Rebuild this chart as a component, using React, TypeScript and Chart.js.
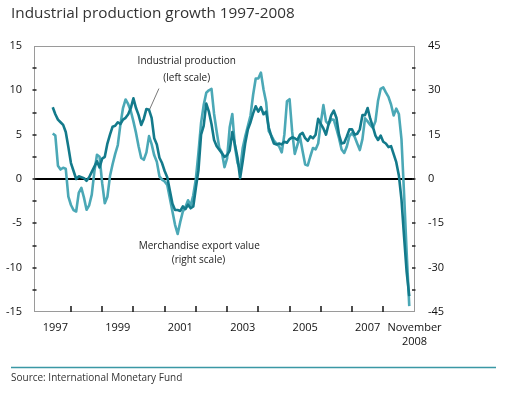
import React, { useEffect, useRef } from "react";
import { Chart, registerables } from "chart.js";

Chart.register(...registerables);

// Months are counted from January 1997 (= 0). Series start in June 1997.
const startMonth = 5;

// Industrial production growth, % (left scale), Jun 1997 - Nov 2008
const industrialProduction = [
  // 1997 (Jun-Dec)
  8.1, 7.3, 6.7, 6.4, 6.1, 5.3, 3.6,
  // 1998
  1.8, 0.9, 0.0, 0.3, 0.2, 0.1, -0.2, 0.2, 0.8, 1.4, 2.0, 1.3,
  // 1999
  2.3, 2.5, 4.0, 5.0, 5.9, 6.0, 6.4, 6.2, 6.7, 6.9, 7.3, 8.0,
  // 2000
  9.1, 8.0, 7.2, 6.1, 6.8, 7.9, 7.8, 6.9, 4.6, 3.9, 2.4, 1.8,
  // 2001
  0.9, 0.2, -1.3, -2.8, -3.5, -3.5, -3.6, -3.1, -3.4, -2.9, -3.3, -3.1,
  // 2002
  -1.0, 1.0, 5.0, 6.0, 8.5, 7.6, 6.2, 4.4, 3.7, 3.3, 2.9, 2.5,
  // 2003
  2.7, 3.2, 5.3, 3.9, 2.4, 0.1, 2.0, 4.1, 5.6, 6.4, 7.4, 8.2,
  // 2004
  7.6, 8.1, 7.3, 7.6, 5.8, 4.8, 4.0, 3.9, 4.0, 3.9, 4.2, 4.1,
  // 2005
  4.5, 4.7, 4.6, 4.4, 5.0, 5.2, 4.6, 4.3, 4.8, 4.6, 5.0, 6.8,
  // 2006
  6.2, 5.7, 5.0, 6.2, 7.2, 7.7, 6.9, 5.0, 4.0, 4.1, 4.8, 5.6,
  // 2007
  5.6, 5.0, 5.1, 5.6, 7.2, 7.2, 8.0, 6.8, 5.9, 4.9, 4.4, 4.9,
  // 2008 (Jan-Nov)
  4.2, 4.0, 3.6, 3.7, 2.8, 1.9, 0.4, -2.3, -6.5, -10.5, -13.2,
];

// Merchandise export value growth, % (right scale), Jun 1997 - Nov 2008
const merchandiseExports = [
  // 1997 (Jun-Dec)
  15.4, 14.7, 4.5, 3.2, 3.8, 3.5, -6.0,
  // 1998
  -8.8, -10.5, -11.0, -4.7, -3.0, -6.3, -10.4, -8.9, -5.3, 2.5, 8.2, 7.5,
  // 1999
  -1.4, -8.2, -6.0, 1.0, 5.0, 8.5, 11.5, 18.4, 24.0, 26.9, 25.3, 23.0,
  // 2000
  19.5, 15.6, 11.0, 7.1, 6.5, 9.0, 14.5, 11.8, 8.0, 5.8, 0.9, -0.2,
  // 2001
  -0.8, -2.0, -6.5, -11.0, -15.5, -18.6, -14.5, -11.0, -9.5, -7.2, -9.0, -5.5,
  // 2002
  0.0, 9.0, 19.0, 25.0, 29.2, 30.0, 30.5, 22.0, 16.0, 10.5, 9.0, 4.0,
  // 2003
  7.0, 17.5, 22.0, 11.0, 5.5, 3.2, 10.5, 14.5, 18.0, 21.5, 28.5, 34.0,
  // 2004
  34.0, 36.0, 30.3, 26.0, 16.2, 14.7, 13.0, 12.0, 11.0, 9.0, 15.0, 26.3,
  // 2005
  27.0, 16.0, 8.5, 11.5, 14.3, 9.5, 4.9, 4.6, 7.7, 10.5, 10.0, 12.0,
  // 2006
  19.0, 25.0, 19.5, 18.5, 20.2, 20.0, 17.0, 13.8, 10.0, 8.8, 11.0, 14.5,
  // 2007
  15.5, 14.3, 12.0, 9.8, 13.5, 20.5, 19.5, 18.3, 17.3, 19.5, 26.5, 30.5,
  // 2008 (Jan-Nov)
  31.0, 29.3, 27.8, 25.2, 21.5, 23.8, 22.0, 13.5, -5.0, -25.0, -43.0,
];

// x-axis labels (placed mid-year) and year-boundary tick marks
const yearLabelMonths = [6, 30, 54, 78, 102, 126, 144];
const yearLabels: (string | string[])[] = ["1997", "1999", "2001", "2003", "2005", "2007", ["November", "2008"]];
const yearBoundaryMonths = [12, 24, 36, 48, 60, 72, 84, 96, 108, 120, 132];

const leftTickMarks = [-12.5, -10, -7.5, -5, -2.5, 0, 2.5, 5, 7.5, 10, 12.5];
const rightTickMarks = [-37.5, -30, -22.5, -15, -7.5, 0, 7.5, 15, 22.5, 30, 37.5];

const titleText = "Industrial production growth 1997-2008";
const sourceText = "Source: International Monetary Fund";

const DARK = "#137a8b";
const LIGHT = "#4ba8b6";
const FONT = "'Open Sans', 'DejaVu Sans', sans-serif";

const overlayPlugin = {
  id: "overlay",
  beforeDraw(chart: any) {
    const ctx = chart.ctx;
    ctx.save();
    ctx.fillStyle = "#ffffff";
    ctx.fillRect(0, 0, chart.width, chart.height);
    ctx.restore();
  },
  afterDraw(chart: any) {
    const ctx = chart.ctx;
    const a = chart.chartArea;
    const xs = chart.scales.x;
    const yl = chart.scales.yLeft;
    const yr = chart.scales.yRight;
    ctx.save();

    // frame
    ctx.strokeStyle = "#9a9a9a";
    ctx.lineWidth = 1;
    ctx.strokeRect(Math.round(a.left) + 0.5, Math.round(a.top) + 0.5, Math.round(a.right - a.left) - 1, Math.round(a.bottom - a.top) - 1);

    // tick marks
    ctx.strokeStyle = "#222";
    ctx.lineWidth = 1.6;
    ctx.beginPath();
    leftTickMarks.forEach((v) => {
      const y = Math.round(yl.getPixelForValue(v));
      ctx.moveTo(a.left - 1.5, y);
      ctx.lineTo(a.left + 2.5, y);
    });
    rightTickMarks.forEach((v) => {
      const y = Math.round(yr.getPixelForValue(v));
      ctx.moveTo(a.right - 3, y);
      ctx.lineTo(a.right + 0.5, y);
    });
    yearBoundaryMonths.forEach((m) => {
      const x = Math.round(xs.getPixelForValue(m));
      ctx.moveTo(x, a.bottom - 6);
      ctx.lineTo(x, a.bottom);
    });
    ctx.stroke();

    // leader line for industrial production
    ctx.strokeStyle = "#555";
    ctx.lineWidth = 0.8;
    ctx.beginPath();
    ctx.moveTo(xs.getPixelForValue(42.3), yl.getPixelForValue(7.9));
    ctx.lineTo(xs.getPixelForValue(45.8), yl.getPixelForValue(10.2));
    ctx.stroke();

    // series annotations
    ctx.fillStyle = "#222";
    ctx.font = `10px ${FONT}`;
    ctx.textAlign = "center";
    ctx.textBaseline = "middle";
    ctx.fillText("Industrial production", xs.getPixelForValue(56.5), yl.getPixelForValue(13.3));
    ctx.fillText("(left scale)", xs.getPixelForValue(56.5), yl.getPixelForValue(11.35));
    ctx.fillText("Merchandise export value", xs.getPixelForValue(61.3), yl.getPixelForValue(-7.6));
    ctx.fillText("(right scale)", xs.getPixelForValue(61.0), yl.getPixelForValue(-9.1));

    // title
    ctx.textAlign = "left";
    ctx.textBaseline = "alphabetic";
    ctx.fillStyle = "#333";
    ctx.font = `15.3px ${FONT}`;
    ctx.fillText(titleText, 11, 18);

    // separator + source
    ctx.strokeStyle = "#3a98a5";
    ctx.lineWidth = 1.3;
    ctx.beginPath();
    ctx.moveTo(11, 367.5);
    ctx.lineTo(496, 367.5);
    ctx.stroke();
    ctx.fillStyle = "#333";
    ctx.font = `10px ${FONT}`;
    ctx.fillText(sourceText, 11, 381);

    ctx.restore();
  },
};

export default function App() {
  const canvasRef = useRef<HTMLCanvasElement | null>(null);

  useEffect(() => {
    if (!canvasRef.current) return;
    const ipPoints = industrialProduction.map((v, i) => ({ x: startMonth + i, y: v }));
    const mxPoints = merchandiseExports.map((v, i) => ({ x: startMonth + i, y: v }));

    const chart = new Chart(canvasRef.current, {
      type: "line",
      data: {
        datasets: [
          {
            label: "Industrial production (left scale)",
            data: ipPoints,
            yAxisID: "yLeft",
            borderColor: DARK,
            borderWidth: 2.6,
            pointRadius: 0,
            tension: 0,
            borderJoinStyle: "round",
            fill: false,
          },
          {
            label: "Merchandise export value (right scale)",
            data: mxPoints,
            yAxisID: "yRight",
            borderColor: LIGHT,
            borderWidth: 2.6,
            pointRadius: 0,
            tension: 0,
            borderJoinStyle: "round",
            fill: false,
          },
        ],
      },
      options: {
        animation: false,
        responsive: false,
        devicePixelRatio: 1,
        layout: { padding: { top: 46, left: 0, right: 0, bottom: 0 } },
        plugins: {
          legend: { display: false },
          title: { display: false },
          tooltip: { enabled: false },
        },
        scales: {
          x: {
            type: "linear",
            min: -2.2,
            max: 144.2,
            grid: { display: false, drawTicks: false },
            border: { display: false },
            afterBuildTicks: (scale: any) => {
              scale.ticks = yearLabelMonths.map((m) => ({ value: m }));
            },
            afterFit: (scale: any) => {
              scale.height = 83;
            },
            ticks: {
              autoSkip: false,
              maxRotation: 0,
              minRotation: 0,
              padding: 8,
              color: "#111",
              font: { family: FONT, size: 11, lineHeight: 1.35 },
              callback: (value: any) => {
                const idx = yearLabelMonths.indexOf(Number(value));
                return idx >= 0 ? yearLabels[idx] : "";
              },
            },
          },
          yLeft: {
            type: "linear",
            position: "left",
            min: -15,
            max: 15,
            afterFit: (scale: any) => {
              scale.width = 34;
            },
            grid: {
              drawTicks: false,
              color: (c: any) => (c.tick && c.tick.value === 0 ? "#000" : "rgba(0,0,0,0)"),
              lineWidth: (c: any) => (c.tick && c.tick.value === 0 ? 2 : 0),
            },
            border: { display: false },
            ticks: {
              stepSize: 5,
              padding: 12,
              color: "#111",
              font: { family: FONT, size: 11 },
            },
          },
          yRight: {
            type: "linear",
            position: "right",
            min: -45,
            max: 45,
            afterFit: (scale: any) => {
              scale.width = 97;
            },
            grid: { display: false, drawTicks: false },
            border: { display: false },
            ticks: {
              stepSize: 15,
              padding: 13,
              color: "#111",
              font: { family: FONT, size: 11 },
            },
          },
        },
      },
      plugins: [overlayPlugin],
    });

    return () => chart.destroy();
  }, []);

  return (
    <div style={{ position: "absolute", left: 0, top: 0, width: 512, height: 395 }}>
      <canvas ref={canvasRef} width={512} height={395} style={{ width: 512, height: 395, display: "block" }} />
    </div>
  );
}
